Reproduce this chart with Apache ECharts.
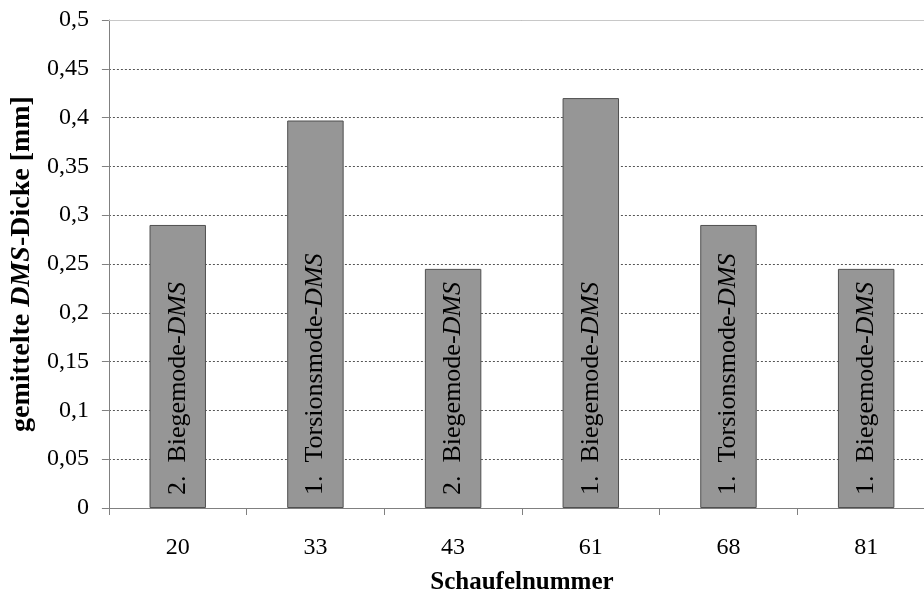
<!DOCTYPE html>
<html>
<head>
<meta charset="utf-8">
<script src="https://cdn.jsdelivr.net/npm/echarts@6/dist/echarts.min.js"></script>
<style>html,body{margin:0;padding:0;background:#fff;overflow:hidden}#c{width:935px;height:603px}</style>
</head>
<body>
<div id="c"></div>
<script>
var categories = ['20', '33', '43', '61', '68', '81'];
var values = [0.29, 0.397, 0.245, 0.42, 0.29, 0.245];
var modeLabels = ['2.  Biegemode-', '1.  Torsionsmode-', '2.  Biegemode-', '1.  Biegemode-', '1.  Torsionsmode-', '1.  Biegemode-'];
var yMin = 0, yMax = 0.5, yStep = 0.05;

var font = 'Liberation Serif';
var chart = echarts.init(document.getElementById('c'));
chart.setOption({
  animation: false,
  backgroundColor: '#fff',
  grid: { left: 108, top: 20, bottom: 95, right: 0, containLabel: false },
  xAxis: {
    type: 'category',
    data: categories,
    name: 'Schaufelnummer',
    nameLocation: 'middle',
    nameGap: 62,
    nameTextStyle: { fontFamily: font, fontSize: 25, fontWeight: 'bold', color: '#000' },
    axisLine: { lineStyle: { color: '#808080', width: 1 } },
    axisTick: { show: true, length: 7, lineStyle: { color: '#808080' } },
    axisLabel: { fontFamily: font, fontSize: 24, color: '#000', margin: 28 },
    splitLine: { show: false }
  },
  yAxis: {
    type: 'value',
    min: yMin, max: yMax, interval: yStep,
    name: '{b|gemittelte }{bi|DMS}{b|-Dicke [mm]}',
    nameLocation: 'middle',
    nameGap: 69,
    nameRotate: 90,
    nameTextStyle: {
      rich: {
        b: { fontFamily: font, fontSize: 28, fontWeight: 'bold', color: '#000' },
        bi: { fontFamily: font, fontSize: 28, fontWeight: 'bold', fontStyle: 'italic', color: '#000' }
      }
    },
    axisLine: { show: true, lineStyle: { color: '#808080', width: 1 } },
    axisTick: { show: true, length: 7, lineStyle: { color: '#808080' } },
    axisLabel: {
      fontFamily: font, fontSize: 24, color: '#000', margin: 20,
      formatter: function (v) { return String(+v.toFixed(2)).replace('.', ','); }
    },
    splitLine: { show: true, lineStyle: { color: '#555', type: [2, 2], width: 1 } }
  },
  series: [{
    type: 'bar',
    data: values,
    barWidth: '41%',
    itemStyle: { color: '#969696', borderColor: '#505050', borderWidth: 1 },
    label: {
      show: true,
      position: 'insideBottom',
      rotate: 90,
      align: 'left',
      verticalAlign: 'middle',
      distance: 13,
      formatter: function (p) { return '{n|' + modeLabels[p.dataIndex] + '}{i|DMS}'; },
      rich: {
        n: { fontFamily: font, fontSize: 26, color: '#000' },
        i: { fontFamily: font, fontSize: 26, fontStyle: 'italic', color: '#000' }
      }
    },
    markLine: {
      silent: true, symbol: 'none', label: { show: false },
      lineStyle: { color: '#c8c8c8', type: 'solid', width: 1 },
      data: [{ yAxis: yMax }]
    }
  }]
});
</script>
</body>
</html>
